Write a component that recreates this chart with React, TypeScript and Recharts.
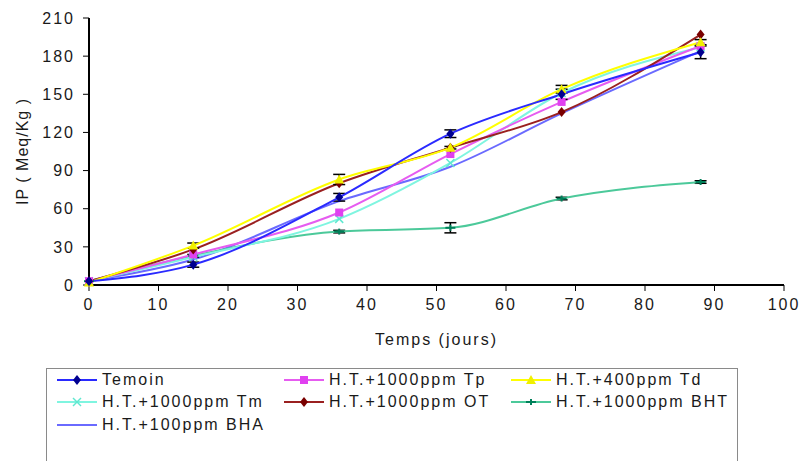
import React from 'react';
import { LineChart, Line, XAxis, YAxis, ErrorBar, Label } from 'recharts';

// days of storage
const days = [0, 15, 36, 52, 68, 88];

// peroxide index (Meq/Kg) per treatment
const temoin = [3, 16, 69, 119, 150, 183];
const tp     = [3, 24, 57, 103, 144, 188];
const td     = [2, 31, 83, 108, 154, 191];
const tm     = [3, 22, 52, 96, 151, 187];
const ot     = [3, 28, 80, 108, 136, 197];
const bht    = [3, 23, 42, 45, 68, 81];
const bha    = [3, 20, 66, 93, 135, 184];

// error bars (std dev)
const temoinErr = [0, 2, 3, 3, 4, 5];
const tdErr     = [0, 2, 4, 1, 3, 2];
const bhtErr    = [0, 1, 1, 4, 1, 1];

const xTicks = [0, 10, 20, 30, 40, 50, 60, 70, 80, 90, 100];
const yTicks = [0, 30, 60, 90, 120, 150, 180, 210];

const data = days.map((d, i) => ({
  day: d,
  temoin: temoin[i], tp: tp[i], td: td[i], tm: tm[i], ot: ot[i], bht: bht[i], bha: bha[i],
  temoinErr: temoinErr[i], tdErr: tdErr[i], bhtErr: bhtErr[i],
}));

const FONT = '"Liberation Sans", Arial, sans-serif';
const TXT = '#1a1a1a';

type Shape = 'diamond' | 'square' | 'triangle' | 'cross' | 'circle' | 'plus' | 'none';

function Marker({ cx, cy, shape, color }: { cx: number; cy: number; shape: Shape; color: string }) {
  if (cx == null || cy == null) return null;
  switch (shape) {
    case 'diamond':
      return <path d={`M${cx},${cy - 5}L${cx + 4},${cy}L${cx},${cy + 5}L${cx - 4},${cy}Z`} fill={color} />;
    case 'square':
      return <rect x={cx - 4} y={cy - 4} width={8} height={8} fill={color} />;
    case 'triangle':
      return <path d={`M${cx},${cy - 5}L${cx + 5},${cy + 4}L${cx - 5},${cy + 4}Z`} fill={color} />;
    case 'cross':
      return (
        <g stroke={color} strokeWidth={1.5}>
          <line x1={cx - 4} y1={cy - 4} x2={cx + 4} y2={cy + 4} />
          <line x1={cx - 4} y1={cy + 4} x2={cx + 4} y2={cy - 4} />
        </g>
      );
    case 'circle':
      return <path d={`M${cx},${cy - 5}L${cx + 4},${cy}L${cx},${cy + 5}L${cx - 4},${cy}Z`} fill={color} />;
    case 'plus':
      return (
        <g stroke={color} strokeWidth={2}>
          <line x1={cx - 5} y1={cy} x2={cx + 5} y2={cy} />
          <line x1={cx} y1={cy - 3} x2={cx} y2={cy + 3} />
        </g>
      );
    default:
      return null;
  }
}

const SERIES: { key: string; name: string; line: string; marker: string; shape: Shape; err?: string }[] = [
  { key: 'bha',    name: 'H.T.+100ppm BHA',   line: '#6a6aff', marker: '#6a6aff', shape: 'none' },
  { key: 'bht',    name: 'H.T.+1000ppm BHT',  line: '#4cc99a', marker: '#00805a', shape: 'plus', err: 'bhtErr' },
  { key: 'tm',     name: 'H.T.+1000ppm Tm',   line: '#7ff5e0', marker: '#5fe8d0', shape: 'cross' },
  { key: 'tp',     name: 'H.T.+1000ppm Tp',   line: '#e65cf0', marker: '#e040f0', shape: 'square' },
  { key: 'ot',     name: 'H.T.+1000ppm OT',   line: '#9a2020', marker: '#7a0000', shape: 'circle' },
  { key: 'td',     name: 'H.T.+400ppm Td',    line: '#ffff00', marker: '#f0f000', shape: 'triangle', err: 'tdErr' },
  { key: 'temoin', name: 'Temoin',            line: '#2a2aff', marker: '#000090', shape: 'diamond', err: 'temoinErr' },
];

// legend order as in the figure
const LEGEND_ORDER = ['temoin', 'tp', 'td', 'tm', 'ot', 'bht', 'bha'];

function LegendSwatch({ line, marker, shape }: { line: string; marker: string; shape: Shape }) {
  return (
    <svg width={40} height={12} style={{ display: 'block' }}>
      <line x1={0} y1={6} x2={40} y2={6} stroke={line} strokeWidth={2} />
      <Marker cx={20} cy={6} shape={shape} color={marker} />
    </svg>
  );
}

function ChartLegend() {
  const colX = [10, 237, 464];
  const rowY = [11, 33, 56];
  return (
    <div style={{
      position: 'absolute', left: 46, top: 368, width: 692, height: 110,
      border: '1px solid #8a8a8a', boxSizing: 'border-box', background: '#fff',
    }}>
      {LEGEND_ORDER.map((k, i) => {
        const s = SERIES.find(x => x.key === k)!;
        const c = i % 3, r = Math.floor(i / 3);
        return (
          <div key={k} style={{
            position: 'absolute', left: colX[c], top: rowY[r] - 8, height: 16,
            display: 'flex', alignItems: 'center', gap: 5,
          }}>
            <LegendSwatch line={s.line} marker={s.marker} shape={s.shape} />
            <span style={{ fontFamily: FONT, fontSize: 16, letterSpacing: 2, color: TXT, whiteSpace: 'nowrap' }}>
              {s.name}
            </span>
          </div>
        );
      })}
    </div>
  );
}

export default function App() {
  const tickStyle = { fill: TXT, fontSize: 16, fontFamily: FONT, letterSpacing: 2 };
  return (
    <div style={{ position: 'absolute', left: 0, top: 0, width: 799, height: 461, background: '#fff', overflow: 'hidden' }}>
      <LineChart width={799} height={461} data={data} margin={{ top: 18, right: 15, left: 0, bottom: 106 }}>
        <XAxis dataKey="day" type="number" domain={[0, 100]} ticks={xTicks} interval={0}
          axisLine={{ stroke: '#000', strokeWidth: 2 }} tickLine={{ stroke: '#000' }} tickSize={6}
          tickMargin={8} tick={tickStyle} height={70}>
          <Label content={(p: any) => (
            <text x={p.viewBox.x + p.viewBox.width / 2} y={p.viewBox.y + 60} textAnchor="middle"
              style={{ fontFamily: FONT, fontSize: 16, letterSpacing: 2, fill: TXT }}>Temps (jours)</text>
          )} />
        </XAxis>
        <YAxis type="number" domain={[0, 210]} ticks={yTicks} interval={0} width={89}
          axisLine={{ stroke: '#000', strokeWidth: 2 }} tickLine={{ stroke: '#000' }} tickSize={6}
          tickMargin={8} tick={tickStyle}>
          <Label content={(p: any) => {
            const x = p.viewBox.x + 22, y = p.viewBox.y + p.viewBox.height / 2;
            return (
              <text x={x} y={y} transform={`rotate(-90 ${x} ${y})`} textAnchor="middle" dominantBaseline="central"
                style={{ fontFamily: FONT, fontSize: 16, letterSpacing: 1, fill: TXT }}>IP ( Meq/Kg )</text>
            );
          }} />
        </YAxis>
        {SERIES.map(s => (
          <Line key={s.key} dataKey={s.key} name={s.name} type="monotone" stroke={s.line} strokeWidth={2}
            isAnimationActive={false} activeDot={false}
            dot={(p: any) => <Marker key={`${s.key}-${p.index}`} cx={p.cx} cy={p.cy} shape={s.shape} color={s.marker} />}>
            {s.err && <ErrorBar dataKey={s.err} direction="y" width={6} stroke="#000" strokeWidth={1.5} />}
          </Line>
        ))}
      </LineChart>
      <ChartLegend />
    </div>
  );
}
